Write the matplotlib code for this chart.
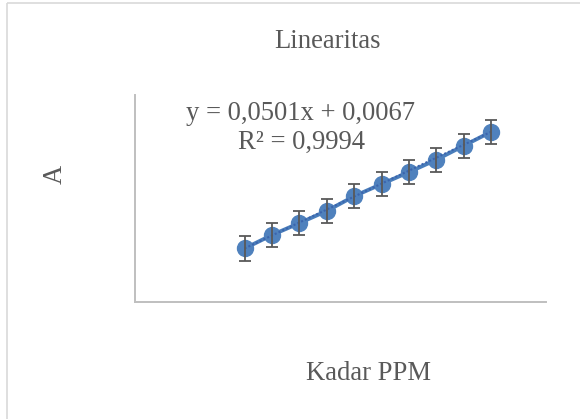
import matplotlib
matplotlib.use("Agg")
import matplotlib.pyplot as plt
from matplotlib.patches import Rectangle
import numpy as np

# Data
kadar_ppm = [4, 5, 6, 7, 8, 9, 10, 11, 12, 13]
absorbansi = [0.207, 0.259, 0.305, 0.352, 0.409, 0.456, 0.502, 0.550, 0.604, 0.658]
error = [0.047] * 10
slope = 0.0501
intercept = 0.0067
title = "Linearitas"
xlabel = "Kadar PPM"
ylabel = "A"
eq_line1 = "y = 0,0501x + 0,0067"
eq_line2 = "R² = 0,9994"

W, H = 580, 419
fig = plt.figure(figsize=(W / 100, H / 100), dpi=100)
fig.patch.set_facecolor("white")

# Chart area border
fig.patches.append(Rectangle((7 / W, 1 - 3 / H), 2, -2, transform=fig.transFigure,
                             fill=False, edgecolor="#D9D9D9", linewidth=1.2))

left, right, top, bottom = 135, 546, 95, 302
ax = fig.add_axes([left / W, 1 - bottom / H, (right - left) / W, (bottom - top) / H])
ax.set_xlim(0, 15)
ax.set_ylim(0, 0.8)
for s in ["top", "right"]:
    ax.spines[s].set_visible(False)
for s in ["left", "bottom"]:
    ax.spines[s].set_color("#BFBFBF")
    ax.spines[s].set_linewidth(1.4)
ax.set_xticks([])
ax.set_yticks([])

blue = "#4F81BD"
ax.plot(kadar_ppm, absorbansi, color="#4A7EBB", lw=2.8, marker="o", markersize=11.5,
        markerfacecolor=blue, markeredgecolor=blue, zorder=3)
tx = np.array([kadar_ppm[0], kadar_ppm[-1]])
ax.plot(tx, slope * tx + intercept, color="#3B64AD", lw=1.5, ls=(0, (1, 1)), zorder=4)
ax.errorbar(kadar_ppm, absorbansi, yerr=error, fmt="none", ecolor="#595959",
            elinewidth=1.3, capsize=4, capthick=1.3, zorder=5)

font = "Liberation Serif"
tc = "#595959"
fs = 19.2
fig.text(327 / W, 1 - 42 / H, title, ha="center", va="center", family=font, fontsize=fs, color=tc)
fig.text(368 / W, 1 - 373 / H, xlabel, ha="center", va="center", family=font, fontsize=fs, color=tc)
fig.text(55 / W, 1 - 174 / H, ylabel, ha="center", va="center", rotation=90, family=font,
         fontsize=fs, color=tc)
fig.text(301 / W, 1 - 114 / H, eq_line1, ha="center", va="center", family=font, fontsize=fs, color=tc)
fig.text(302 / W, 1 - 142 / H, eq_line2, ha="center", va="center", family=font, fontsize=fs, color=tc)

fig.savefig("out.png", dpi=100)
